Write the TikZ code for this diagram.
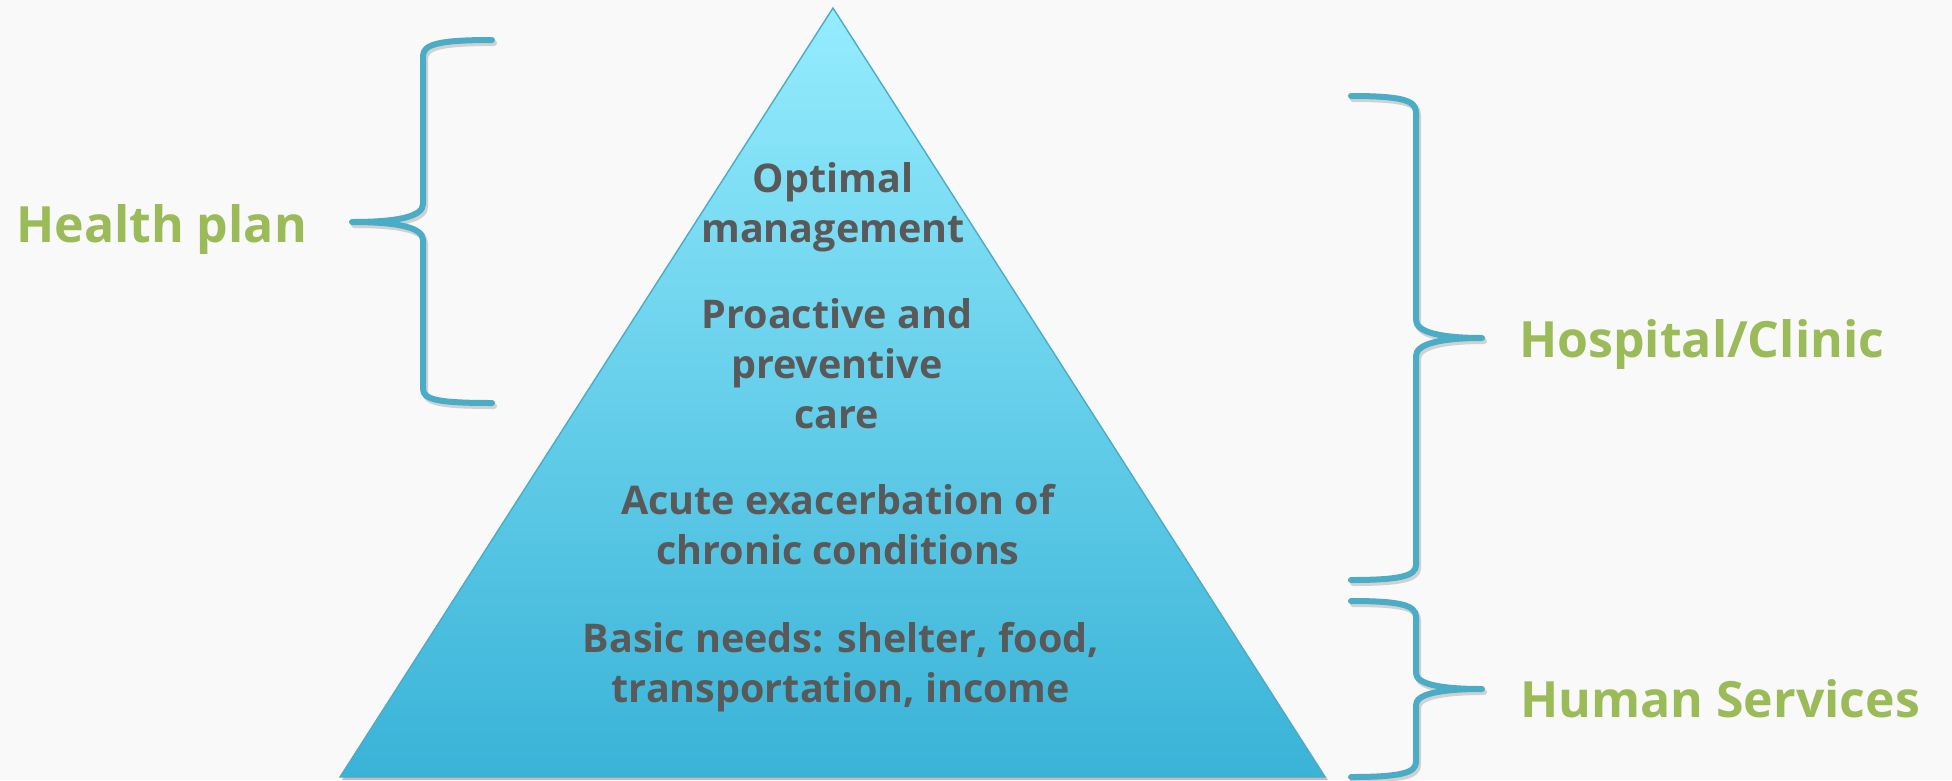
\documentclass[tikz,border=0pt]{standalone}
\usepackage{fontspec}
\setmainfont{Open Sans}
\definecolor{bgc}{HTML}{F9F9F9}
\definecolor{bracec}{HTML}{4BACC6}
\definecolor{greenc}{HTML}{9BBB59}
\definecolor{grayc}{HTML}{595959}
\definecolor{toptri}{HTML}{95ECFE}
\definecolor{bottri}{HTML}{39B3D7}
\tikzset{
  bracepath/.style={draw=bracec, line width=6pt, line cap=round, line join=round},
  braceshadow/.style={draw=black!18, line width=6pt, line cap=round, line join=round},
  tritext/.style={text=grayc, font=\fontsize{39.5}{50}\selectfont\bfseries, align=center, inner sep=0pt},
  sidelabel/.style={text=greenc, font=\fontsize{50}{60}\selectfont\bfseries, anchor=base west, inner sep=0pt}
}
\begin{document}
\begin{tikzpicture}[x=1pt,y=-1pt]
\fill[bgc] (0,0) rectangle (1952,780);
\useasboundingbox (0,0) rectangle (1952,780);
% triangle
\fill[black!25] (835,11) -- (1328,780) -- (342,780) -- cycle;
\shade[top color=toptri, bottom color=bottri] (833,8) -- (1325,777) -- (340,777) -- cycle;
\draw[bracec, line width=1.4pt, line join=miter] (833,8) -- (1325,777) -- (340,777) -- cycle;
% triangle texts
\node[tritext] (opt) at (833,207) {Optimal\\management};
\node[tritext] (pro) at (837,364) {Proactive and\\preventive\\care};
\node[tritext] (acu) at (838,525) {Acute exacerbation of\\chronic conditions};
\node[tritext] (bas) at (841,667) {Basic needs: shelter, food,\\transportation, income};
% left brace
\begin{scope}[shift={(2,3)}]
\draw[braceshadow] (492,40) .. controls (440,40) and (423,44) .. (423,56) -- (423,204) .. controls (423,216) and (400,222) .. (352,222) .. controls (400,222) and (423,228) .. (423,240) -- (423,389) .. controls (423,400) and (440,403) .. (492,403);
\end{scope}
\draw[bracepath] (492,40) .. controls (440,40) and (423,44) .. (423,56) -- (423,204) .. controls (423,216) and (400,222) .. (352,222) .. controls (400,222) and (423,228) .. (423,240) -- (423,389) .. controls (423,400) and (440,403) .. (492,403);
% right brace 1
\begin{scope}[shift={(2,3)}]
\draw[braceshadow] (1351,96) .. controls (1400,96) and (1416,100) .. (1416,112) -- (1416,320) .. controls (1416,332) and (1440,338) .. (1482,338) .. controls (1440,338) and (1416,344) .. (1416,356) -- (1416,565) .. controls (1416,576) and (1400,580) .. (1351,580);
\end{scope}
\draw[bracepath] (1351,96) .. controls (1400,96) and (1416,100) .. (1416,112) -- (1416,320) .. controls (1416,332) and (1440,338) .. (1482,338) .. controls (1440,338) and (1416,344) .. (1416,356) -- (1416,565) .. controls (1416,576) and (1400,580) .. (1351,580);
% right brace 2
\begin{scope}[shift={(2,3)}]
\draw[braceshadow] (1351,601) .. controls (1400,601) and (1416,605) .. (1416,617) -- (1416,673) .. controls (1416,684) and (1440,689) .. (1482,689) .. controls (1440,689) and (1416,694) .. (1416,705) -- (1416,762) .. controls (1416,773) and (1400,777) .. (1351,777);
\end{scope}
\draw[bracepath] (1351,601) .. controls (1400,601) and (1416,605) .. (1416,617) -- (1416,673) .. controls (1416,684) and (1440,689) .. (1482,689) .. controls (1440,689) and (1416,694) .. (1416,705) -- (1416,762) .. controls (1416,773) and (1400,777) .. (1351,777);
% labels
\node[sidelabel] (hp) at (16,242) {Health plan};
\node[sidelabel] (hc) at (1519,357) {Hospital/Clinic};
\node[sidelabel] (hs) at (1520,717) {Human Services};
\end{tikzpicture}
\end{document}
